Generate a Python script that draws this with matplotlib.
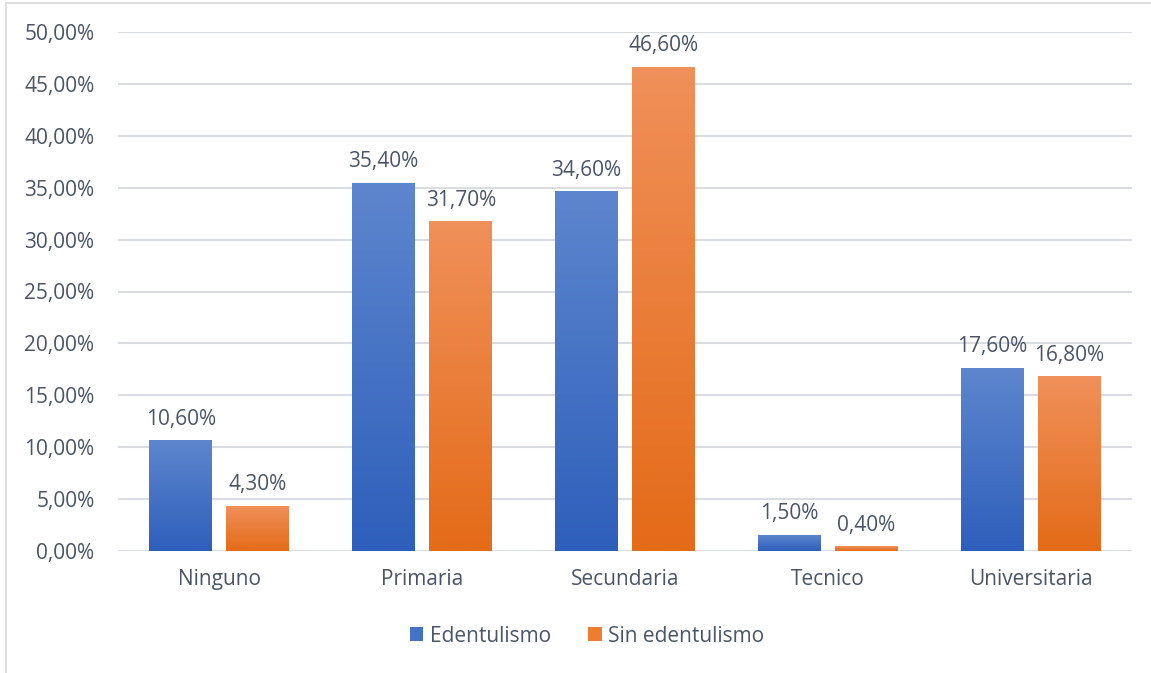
import matplotlib
matplotlib.use("Agg")
import matplotlib.pyplot as plt
import numpy as np
from matplotlib.colors import LinearSegmentedColormap
from matplotlib.patches import Rectangle, Patch

categories = ["Ninguno", "Primaria", "Secundaria", "Tecnico", "Universitaria"]
edentulismo = [10.6, 35.4, 34.6, 1.5, 17.6]
sin_edentulismo = [4.3, 31.7, 46.6, 0.4, 16.8]
series_names = ["Edentulismo", "Sin edentulismo"]
yticks = [0, 5, 10, 15, 20, 25, 30, 35, 40, 45, 50]

plt.rcParams['font.family'] = ['Open Sans', 'DejaVu Sans']
txt = '#4A5568'
fs = 15

W, H = 1151, 673
fig = plt.figure(figsize=(W/100, H/100), dpi=100)
ax = fig.add_axes([118/W, 1-551/H, (1132-118)/W, (551-32)/H])

blue_cmap = LinearSegmentedColormap.from_list('b', ['#2E5FBB', '#5E86CE'])
orange_cmap = LinearSegmentedColormap.from_list('o', ['#E46B18', '#F0905A'])
grad = np.linspace(0, 1, 256).reshape(-1, 1)

x = np.arange(len(categories))
bw = 0.31
off = 0.19

def gbars(xs, vals, cmap):
    bars = ax.bar(xs, vals, bw, color='none', zorder=2)
    for b in bars:
        x0, w, h = b.get_x(), b.get_width(), b.get_height()
        ax.imshow(grad, extent=(x0, x0 + w, 0, h), origin='lower', cmap=cmap,
                  aspect='auto', zorder=2, interpolation='bilinear')
    return bars

b1 = gbars(x - off, edentulismo, blue_cmap)
b2 = gbars(x + off, sin_edentulismo, orange_cmap)

def fmt(v):
    return f"{v:.2f}".replace('.', ',') + '%'

for xs, vals in ((x - off, edentulismo), (x + off, sin_edentulismo)):
    for xi, v in zip(xs, vals):
        ax.annotate(fmt(v), (xi, v), xytext=(0, 8), textcoords='offset points',
                    ha='center', va='bottom', fontsize=fs, color=txt)

ax.set_xlim(-0.5, len(categories) - 0.5)
ax.set_ylim(0, 50)
ax.set_yticks(yticks)
ax.set_yticklabels([fmt(t) for t in yticks], fontsize=fs, color=txt)
ax.set_xticks(x)
ax.set_xticklabels(categories, fontsize=fs, color=txt)
ax.tick_params(axis='both', length=0)
ax.tick_params(axis='y', pad=17)
ax.tick_params(axis='x', pad=13)
ax.grid(axis='y', color='#D9DCE1', linewidth=1.5, zorder=0)
ax.set_axisbelow(True)
for s in ax.spines.values():
    s.set_visible(False)

handles = [Patch(facecolor='#4472C4'), Patch(facecolor='#ED7D31')]
fig.legend(handles, series_names, loc='center', bbox_to_anchor=(587/W, 1-636/H),
           ncol=2, frameon=False, fontsize=fs, handlelength=0.65, handleheight=0.65,
           handletextpad=0.3, columnspacing=1.8, labelcolor=txt)

fig.patches.append(Rectangle((6/W, -0.1), 1.2, 1 + 0.1 - 3/H, transform=fig.transFigure,
                             fill=False, edgecolor='#D9D9D9', linewidth=1.2))

fig.savefig('out.png', dpi=100)
